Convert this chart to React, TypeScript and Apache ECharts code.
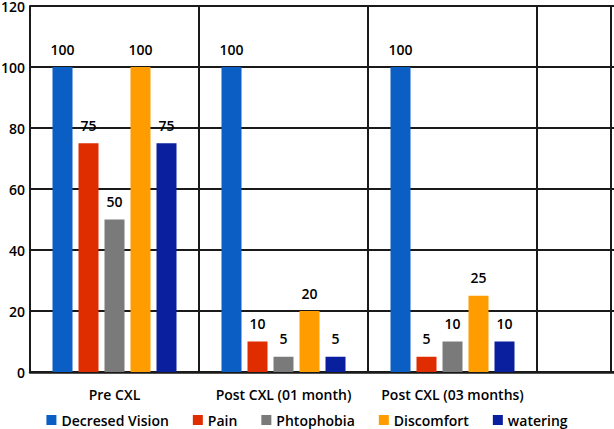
import React, { useEffect, useRef } from "react";
import * as echarts from "echarts";

const categories = ["Pre CXL", "Post CXL (01 month)", "Post CXL (03 months)", ""];
const seriesNames = ["Decresed Vision", "Pain", "Phtophobia", "Discomfort", "watering"];
const decreasedVision = [100, 100, 100];
const pain = [75, 10, 5];
const phtophobia = [50, 5, 10];
const discomfort = [100, 20, 25];
const watering = [75, 5, 10];
const colors = ["#0A5EC4", "#E02D00", "#7A7A7A", "#FF9C00", "#0A1F9E"];
const yTicks = { min: 0, max: 120, interval: 20 };

export default function App() {
  const ref = useRef<HTMLDivElement>(null);
  useEffect(() => {
    if (!ref.current) return;
    const chart = echarts.init(ref.current, undefined, { renderer: "svg" });
    const values = [decreasedVision, pain, phtophobia, discomfort, watering];
    const font = "'Open Sans', sans-serif";
    const txt = { color: "#000", fontFamily: font, fontWeight: 600 };
    chart.setOption({
      animation: false,
      textStyle: { fontFamily: font },
      grid: {
        left: 30,
        top: 6,
        width: 676,
        height: 366,
        containLabel: false,
        outerBoundsMode: "none",
      },
      legend: {
        data: seriesNames,
        left: "center",
        top: 408,
        itemWidth: 10,
        itemHeight: 10,
        itemGap: 24,
        icon: "rect",
        textStyle: { fontSize: 14, ...txt },
      },
      xAxis: {
        type: "category",
        data: categories,
        axisLine: { show: true, lineStyle: { color: "#1a1a1a", width: 2.5 } },
        axisTick: { show: false },
        splitLine: { show: true, interval: 0, lineStyle: { color: "#1a1a1a", width: 2 } },
        axisLabel: { interval: 0, fontSize: 14, margin: 15, ...txt },
      },
      yAxis: {
        type: "value",
        min: yTicks.min,
        max: yTicks.max,
        interval: yTicks.interval,
        axisLine: { show: true, lineStyle: { color: "#1a1a1a", width: 2 } },
        axisTick: { show: false },
        splitLine: { show: true, lineStyle: { color: "#1a1a1a", width: 2 } },
        axisLabel: { fontSize: 14, margin: 5, ...txt },
      },
      graphic: [
        {
          type: "line",
          shape: { x1: 611, y1: 6, x2: 611, y2: 372 },
          style: { stroke: "#1a1a1a", lineWidth: 2 },
        },
      ],
      series: seriesNames.map((name, i) => ({
        name,
        type: "bar",
        data: values[i],
        barWidth: 20,
        barGap: "30%",
        itemStyle: { color: colors[i] },
        label: {
          show: true,
          position: "top",
          distance: 11,
          fontSize: 14,
          ...txt,
        },
      })),
    });
    return () => chart.dispose();
  }, []);
  return (
    <div
      ref={ref}
      style={{ position: "fixed", left: 0, top: 0, width: 614, height: 429, background: "#fff" }}
    />
  );
}
